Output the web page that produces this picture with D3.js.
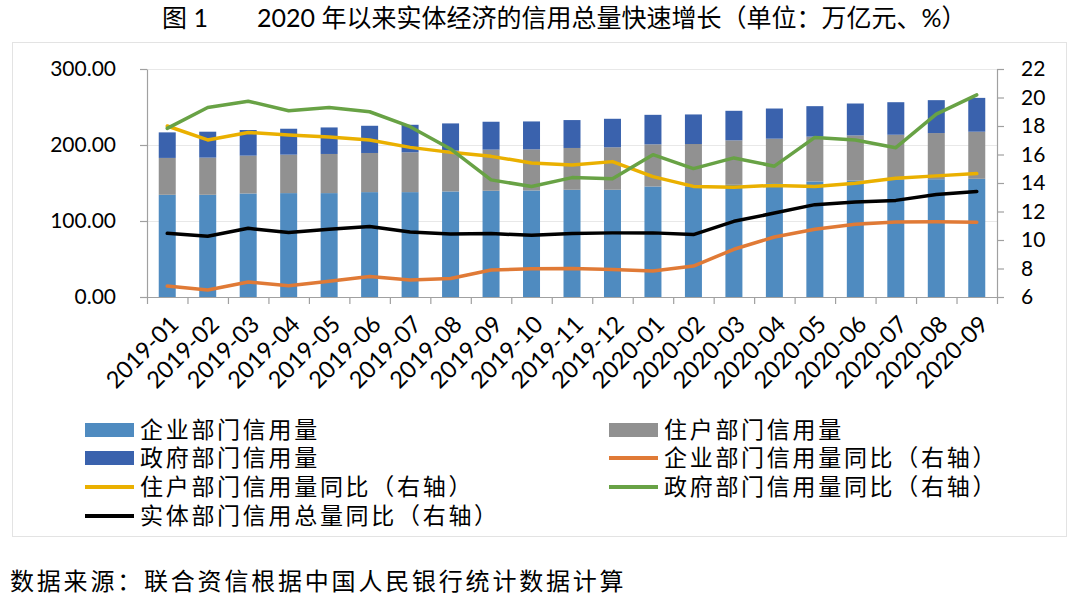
<!DOCTYPE html>
<html>
<head>
<meta charset="utf-8">
<script src="https://cdn.jsdelivr.net/npm/d3@7"></script>
<style>
  html, body { margin: 0; padding: 0; background: #fff; }
  svg { display: block; }
  .num { font-family: Lato, "Liberation Sans", sans-serif; fill: #000; }
  .cjk { font-family: Lato, "Noto Sans CJK SC", sans-serif; fill: #000; }
</style>
</head>
<body>
<svg id="chart" width="1080" height="598"></svg>
<script>
// ---------------- data ----------------
const categories = ["2019-01","2019-02","2019-03","2019-04","2019-05","2019-06","2019-07","2019-08","2019-09","2019-10","2019-11","2019-12","2020-01","2020-02","2020-03","2020-04","2020-05","2020-06","2020-07","2020-08","2020-09"];
// 企业部门信用量 (万亿元)
const enterprise = [134.5,134.5,136.2,136.7,136.7,138.0,138.0,138.9,139.8,140.2,141.1,141.1,145.4,145.0,147.6,149.8,152.0,153.3,154.2,155.0,155.5];
// 住户部门信用量 (万亿元)
const household = [48.5,48.9,49.8,50.6,51.5,51.5,52.4,53.7,54.1,54.1,55.0,55.9,55.5,56.3,58.5,58.5,59.0,59.3,59.3,60.7,62.0];
// 政府部门信用量 (万亿元)
const government = [33.6,34.1,33.7,34.1,34.9,35.8,36.2,35.8,36.7,36.7,36.7,37.5,38.8,38.9,38.9,39.7,40.1,42.0,42.8,43.3,44.5];
// 同比 (%), right axis
const enterpriseYoY = [6.77,6.49,7.05,6.79,7.10,7.44,7.19,7.30,7.89,7.98,8.00,7.93,7.82,8.17,9.35,10.21,10.75,11.10,11.26,11.28,11.24];
const householdYoY = [18.0,17.02,17.55,17.37,17.23,17.02,16.5,16.15,15.87,15.41,15.27,15.5,14.45,13.76,13.71,13.83,13.76,13.99,14.34,14.5,14.66];
const governmentYoY = [17.83,19.30,19.74,19.07,19.30,19.0,17.95,16.39,14.22,13.76,14.38,14.29,15.99,15.01,15.76,15.18,17.2,17.02,16.48,18.83,20.18];
const totalYoY = [10.47,10.26,10.82,10.52,10.75,10.94,10.56,10.42,10.45,10.33,10.45,10.5,10.5,10.38,11.31,11.89,12.48,12.66,12.78,13.2,13.41];

const leftTicks = [0,100,200,300];
const rightTicks = [6,8,10,12,14,16,18,20,22];

const title1 = "图 1";
const title2 = "2020 年以来实体经济的信用总量快速增长（单位：万亿元、%）";
const sourceText = "数据来源：联合资信根据中国人民银行统计数据计算";

const barSeries = [
  {name: "企业部门信用量", values: enterprise, color: "#4f8bc0"},
  {name: "住户部门信用量", values: household, color: "#919191"},
  {name: "政府部门信用量", values: government, color: "#3a62ad"}
];
const lineSeries = [
  {name: "企业部门信用量同比（右轴）", values: enterpriseYoY, color: "#e07a36"},
  {name: "住户部门信用量同比（右轴）", values: householdYoY, color: "#eab000"},
  {name: "政府部门信用量同比（右轴）", values: governmentYoY, color: "#68a245"},
  {name: "实体部门信用总量同比（右轴）", values: totalYoY, color: "#000000"}
];

// ---------------- layout ----------------
const svg = d3.select("#chart");
const plot = {left: 147, right: 997, top: 69, bottom: 297};
const axisColor = "#a0a0a0";

// frame
svg.append("rect").attr("x", 12.5).attr("y", 42.5).attr("width", 1054).attr("height", 494)
  .attr("fill", "#fff").attr("stroke", "#e3e3e3").attr("stroke-width", 1);

// title
svg.append("text").attr("class", "cjk").attr("x", 162).attr("y", 27)
  .style("font-size", "25px").text(title1);
svg.append("text").attr("class", "cjk").attr("x", 257).attr("y", 27)
  .style("font-size", "25px").text(title2);

// scales
const x = d3.scaleBand().domain(categories).range([plot.left, plot.right]).paddingInner(0.58).paddingOuter(0.29);
const xEdge = d3.scaleLinear().domain([0, categories.length]).range([plot.left, plot.right]);
const yL = d3.scaleLinear().domain([0, 300]).range([plot.bottom, plot.top]);
const yR = d3.scaleLinear().domain([6, 22]).range([plot.bottom, plot.top]);

// gridlines
svg.append("g").selectAll("line").data(leftTicks.filter(d => d > 0)).join("line")
  .attr("x1", plot.left).attr("x2", plot.right)
  .attr("y1", d => Math.round(yL(d)) + 0.5).attr("y2", d => Math.round(yL(d)) + 0.5)
  .attr("stroke", "#e8e8e8").attr("stroke-width", 1);

// stacked bars
const stackData = categories.map((c, i) => {
  const o = {cat: c};
  barSeries.forEach(s => o[s.name] = s.values[i]);
  return o;
});
const stack = d3.stack().keys(barSeries.map(s => s.name))(stackData);
svg.append("g").selectAll("g").data(stack).join("g")
  .attr("fill", (d, i) => barSeries[i].color)
  .selectAll("rect").data(d => d).join("rect")
  .attr("x", d => x(d.data.cat))
  .attr("width", x.bandwidth())
  .attr("y", d => yL(d[1]))
  .attr("height", d => yL(d[0]) - yL(d[1]));

// axes
function styleAxis(g) {
  g.selectAll(".domain").attr("stroke", axisColor).attr("stroke-width", 1.2);
  g.selectAll(".tick line").attr("stroke", axisColor).attr("stroke-width", 1.2);
}
const axL = svg.append("g").attr("transform", `translate(${plot.left},0)`)
  .call(d3.axisLeft(yL).tickValues(leftTicks).tickFormat(d3.format(".2f")).tickSize(7).tickSizeOuter(0).tickPadding(24));
styleAxis(axL);
axL.selectAll("text").attr("class", "num").style("font-size", "21px");

const axR = svg.append("g").attr("transform", `translate(${plot.right},0)`)
  .call(d3.axisRight(yR).tickValues(rightTicks).tickFormat(d3.format("d")).tickSize(7).tickSizeOuter(0).tickPadding(17));
styleAxis(axR);
axR.selectAll("text").attr("class", "num").style("font-size", "21px");

const axBt = svg.append("g").attr("transform", `translate(0,${plot.bottom})`)
  .call(d3.axisBottom(xEdge).tickValues(d3.range(categories.length + 1)).tickFormat("").tickSize(7).tickSizeOuter(0));
styleAxis(axBt);

const axB = svg.append("g").attr("transform", `translate(0,${plot.bottom})`)
  .call(d3.axisBottom(x).tickSize(0).tickSizeOuter(0));
axB.select(".domain").remove();
axB.selectAll("text").attr("class", "num").style("font-size", "23.5px")
  .attr("text-anchor", "end").attr("dy", "0.35em").attr("y", 0)
  .attr("transform", "translate(7,23) rotate(-45)");

// lines
const line = d3.line().x((d, i) => x(categories[i]) + x.bandwidth() / 2).y(d => yR(d));
svg.append("g").selectAll("path").data(lineSeries).join("path")
  .attr("d", d => line(d.values))
  .attr("fill", "none").attr("stroke", d => d.color).attr("stroke-width", 3.5)
  .attr("stroke-linejoin", "round").attr("stroke-linecap", "round");

// legend
const legendItems = [
  {s: barSeries[0], type: "bar", col: 0, row: 0},
  {s: barSeries[1], type: "bar", col: 1, row: 0},
  {s: barSeries[2], type: "bar", col: 0, row: 1},
  {s: lineSeries[0], type: "line", col: 1, row: 1},
  {s: lineSeries[1], type: "line", col: 0, row: 2},
  {s: lineSeries[2], type: "line", col: 1, row: 2},
  {s: lineSeries[3], type: "line", col: 0, row: 3}
];
const colX = [85, 609];
const rowY = [430, 458, 487, 516];
const lg = svg.append("g").selectAll("g").data(legendItems).join("g")
  .attr("transform", d => `translate(${colX[d.col]},${rowY[d.row]})`);
lg.filter(d => d.type === "bar").append("rect")
  .attr("x", 0).attr("y", -7).attr("width", 49).attr("height", 14)
  .attr("fill", d => d.s.color);
lg.filter(d => d.type === "line").append("line")
  .attr("x1", 0).attr("x2", 49).attr("y1", 0).attr("y2", 0)
  .attr("stroke", d => d.s.color).attr("stroke-width", 4);
lg.append("text").attr("class", "cjk").attr("x", 55).attr("y", 8)
  .style("font-size", "23px").style("letter-spacing", "2.7px")
  .text(d => d.s.name);

// source
svg.append("text").attr("class", "cjk").attr("x", 10).attr("y", 590)
  .style("font-size", "24px").style("letter-spacing", "2.8px")
  .text(sourceText);
</script>
</body>
</html>
